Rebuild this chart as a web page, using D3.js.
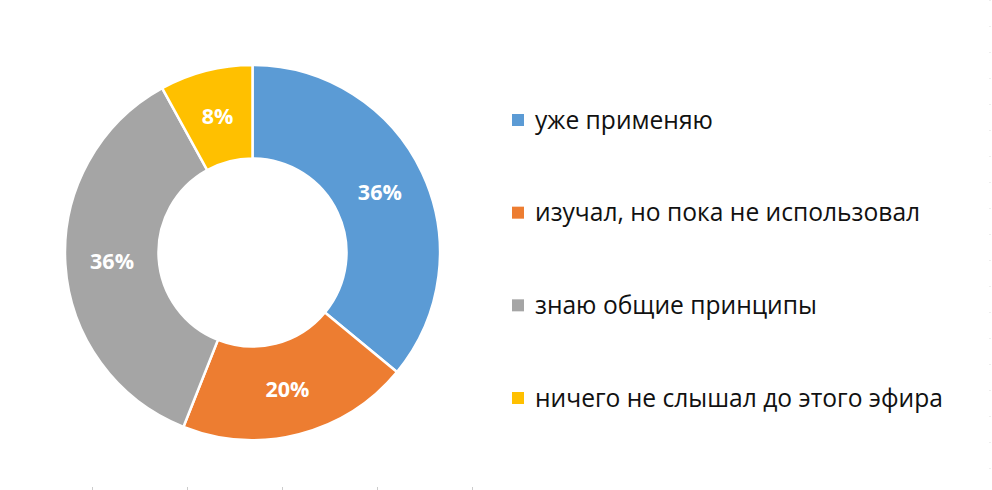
<!DOCTYPE html>
<html><head><meta charset="utf-8">
<script src="https://cdn.jsdelivr.net/npm/d3@7"></script>
<style>body{margin:0;background:#fff}svg{display:block}</style>
</head><body>
<svg id="c" width="992" height="490"></svg>
<script>
const categories = ["уже применяю", "изучал, но пока не использовал", "знаю общие принципы", "ничего не слышал до этого эфира"];
const values = [36, 20, 36, 8];
const colors = ["#5B9BD5", "#ED7D31", "#A5A5A5", "#FFC000"];

const svg = d3.select("#c");
const cx = 252.5, cy = 252.5, R = 187.5, r = 94;
const pie = d3.pie().sort(null).value(d => d)(values);
const arc = d3.arc().innerRadius(r).outerRadius(R);
const g = svg.append("g").attr("transform", `translate(${cx},${cy})`);
g.selectAll("path").data(pie).join("path")
  .attr("d", arc).attr("fill", (d,i) => colors[i])
  .attr("stroke", "#fff").attr("stroke-width", 2.5);
g.selectAll("text").data(pie).join("text")
  .attr("transform", d => `translate(${arc.centroid(d)})`)
  .attr("text-anchor", "middle").attr("dy", "0.36em")
  .attr("fill", "#fff").attr("font-family", "'Open Sans', sans-serif")
  .attr("font-weight", "bold").attr("font-size", 21.5)
  .text(d => d.data + "%");

const ly = d3.scalePoint().domain(categories).range([120, 398]);
const lg = svg.append("g");
categories.forEach((c, i) => {
  lg.append("rect").attr("x", 512).attr("y", ly(c) - 6).attr("width", 12).attr("height", 12).attr("fill", colors[i]);
  lg.append("text").attr("x", 535).attr("y", ly(c)).attr("dy", "0.35em")
    .attr("font-family", "'Open Sans', sans-serif").attr("font-size", 24.6).attr("fill", "#111").text(c);
});

// faint page grid artifacts
svg.append("line").attr("x1", 990).attr("x2", 990).attr("y1", 0).attr("y2", 490)
  .attr("stroke", "#ddd").attr("stroke-dasharray", "1,25");
[92,187,282,377,472].forEach(x => svg.append("line").attr("x1", x+0.5).attr("x2", x+0.5).attr("y1", 487).attr("y2", 490).attr("stroke", "#ccc"));
</script>
</body></html>
